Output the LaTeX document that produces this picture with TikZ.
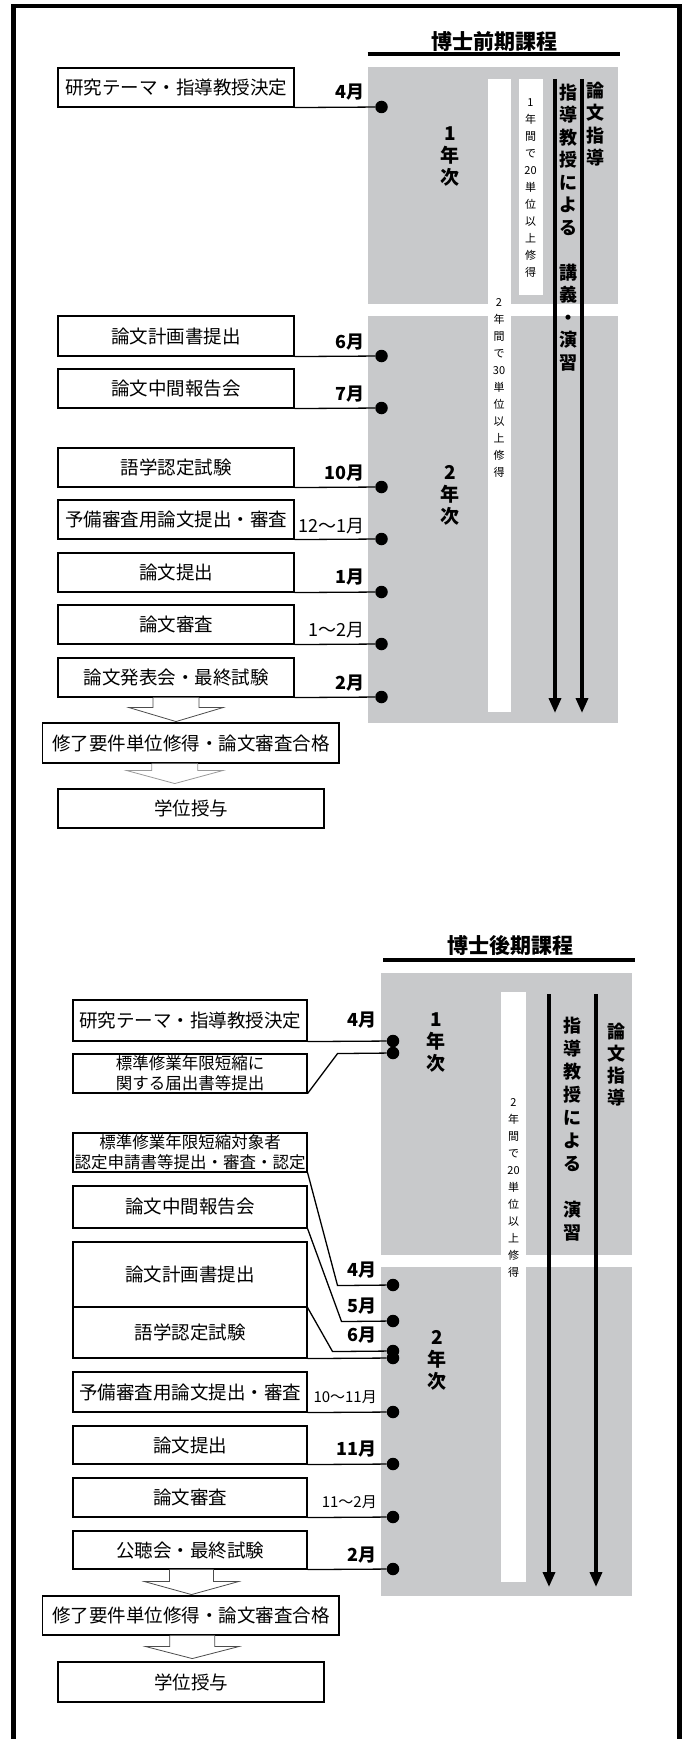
\documentclass[tikz,border=0pt]{standalone}
\usepackage{fontspec}
\newfontfamily\jpfont{Noto Sans CJK JP}
\usetikzlibrary{arrows.meta, calc}
\definecolor{termgray}{RGB}{200,201,203}

\begin{document}
\begin{tikzpicture}[
    % GLOBAL CFG
    x=1pt, y=-1pt,
    font=\jpfont,
    >={Triangle[length=15pt, width=12pt]},
    % Styles
    stepbox/.style={% For the boxes on the left
        rectangle,
        draw,
        line width=1.1pt,
        inner sep=0pt,
        minimum width=236pt,
        font=\jpfont\fontsize{18.5}{22}\selectfont,
        },
    notebox/.style={% For the boxes with two lines of text
        stepbox,
        align=center,
        font=\jpfont\fontsize{16.5}{20}\selectfont,
        },
    monthdot/.style={% For the points on the time line
        circle,
        fill=black,
        inner sep=0pt,
        minimum size=12.5pt,
        },
    month/.style={% For the month labels
        anchor=east,
        inner sep=0pt,
        font=\jpfont\bfseries\fontsize{18}{18}\selectfont,
        },
    monthspan/.style={% For the month ranges
        month,
        font=\jpfont\fontsize{18}{18}\selectfont,
        },
    yearlabel/.style={% 1年次, 2年次
        align=center,
        inner sep=0pt,
        font=\jpfont\bfseries\fontsize{19}{22}\selectfont,
        },
    vbold/.style={% vertical bold text between the arrows
        align=center,
        inner sep=0pt,
        font=\jpfont\bfseries\fontsize{18}{22.5}\selectfont,
        },
    vsmall/.style={% vertical text in the white bars
        align=center,
        inner sep=0pt,
        font=\jpfont\fontsize{11}{17}\selectfont,
        },
    coursetitle/.style={%
        inner sep=0pt,
        font=\jpfont\bfseries\fontsize{21}{21}\selectfont,
        },
    link/.style={% Lines from the boxes to the dots
        line width=1.3pt,
        },
    longarrow/.style={% Thick arrows on the right
        ->,
        line width=3.5pt,
        },
    blockarrow/.style={% Hollow arrows between the last boxes
        draw=black!70,
        line width=0.8pt,
        fill=white,
        },
    ]

    \fill[white] (0,0) rectangle (684,1739);
    \useasboundingbox (0,0) rectangle (684,1739);

    % Frame
    \draw[line width=4.5pt] (13.5,1745) -- (13.5,6) -- (679.5,6) -- (679.5,1745);

%%%%%%%%%%%%%%%%%%%%%%%%%%%%%%%%%%%%%%%%%%%%%%%%
%   博士前期課程
%%%%%%%%%%%%%%%%%%%%%%%%%%%%%%%%%%%%%%%%%%%%%%%%
    \node[coursetitle] (m_title) at (494,42) {博士前期課程};
    \draw[line width=4.5pt] (367.5,54) -- (620,54);

    % Draw the terms
    \fill[termgray] (367.5,67) rectangle (618,304);
    \fill[termgray] (367.5,316) rectangle (618,723);
    \fill[white] (487.5,79) rectangle (511,712);
    \fill[white] (518.5,79) rectangle (542.5,295);

    \node[yearlabel] (m_y1) at (450,156.5) {1\\年\\次};
    \node[yearlabel] (m_y2) at (450,495.5) {2\\年\\次};
    \node[vsmall] (m_u20) at (530.5,188) {1\\年\\間\\で\\20\\単\\位\\以\\上\\修\\得};
    \node[vsmall] (m_u30) at (499,387.5) {2\\年\\間\\で\\30\\単\\位\\以\\上\\修\\得};
    \node[vbold] (m_lec) at (568.5,227.5) {指\\導\\教\\授\\に\\よ\\る\\[22.5pt]講\\義\\・\\演\\習};
    \node[vbold] (m_thesis) at (595.5,124) {論\\文\\指\\導};

    % Thick arrows
    \coordinate (m_a1s) at (555,79);
    \coordinate (m_a1e) at (555,713);
    \coordinate (m_a2s) at (582,79);
    \coordinate (m_a2e) at (582,713);
    \draw[longarrow] (m_a1s) -- (m_a1e);
    \draw[longarrow] (m_a2s) -- (m_a2e);

    % Boxes
    \node[stepbox, minimum height=39pt] (m_theme) at (176,87.5) {研究テーマ・指導教授決定};
    \node[stepbox, minimum height=40pt] (m_plan) at (176,336) {論文計画書提出};
    \node[stepbox, minimum height=39pt] (m_mid) at (176,388.5) {論文中間報告会};
    \node[stepbox, minimum height=39pt] (m_lang) at (176,467.5) {語学認定試験};
    \node[stepbox, minimum height=39pt] (m_pre) at (176,519.5) {予備審査用論文提出・審査};
    \node[stepbox, minimum height=39pt] (m_sub) at (176,572.5) {論文提出};
    \node[stepbox, minimum height=39pt] (m_rev) at (176,624.5) {論文審査};
    \node[stepbox, minimum height=39pt] (m_final) at (176,677.5) {論文発表会・最終試験};
    \node[stepbox, minimum width=296.5pt, minimum height=40pt] (m_req) at (190.75,743) {修了要件単位修得・論文審査合格};
    \node[stepbox, minimum width=266pt, minimum height=39pt] (m_deg) at (191,808.5) {学位授与};

    % Dots and months
    \node[monthdot] (m_d1) at (381.5,107) {};
    \node[monthdot] (m_d2) at (381.5,356) {};
    \node[monthdot] (m_d3) at (381.5,408) {};
    \node[monthdot] (m_d4) at (381.5,487) {};
    \node[monthdot] (m_d5) at (381.5,539) {};
    \node[monthdot] (m_d6) at (381.5,592) {};
    \node[monthdot] (m_d7) at (381.5,644) {};
    \node[monthdot] (m_d8) at (381.5,697) {};

    \node[month] (m_m1) at (365,92) {4月};
    \node[month] (m_m2) at (365,342) {6月};
    \node[month] (m_m3) at (365,394) {7月};
    \node[month] (m_m4) at (365,473) {10月};
    \node[monthspan] (m_m5) at (365,526) {12～1月};
    \node[month] (m_m6) at (365,577) {1月};
    \node[monthspan] (m_m7) at (365,630) {1～2月};
    \node[month] (m_m8) at (365,683) {2月};

    \draw[link] (m_theme.south east) -- (m_d1);
    \draw[link] (m_plan.south east) -- (m_d2);
    \draw[link] (m_mid.south east) -- (m_d3);
    \draw[link] (m_lang.south east) -- (m_d4);
    \draw[link] (m_pre.south east) -- (m_d5);
    \draw[link] (m_sub.south east) -- (m_d6);
    \draw[link] (m_rev.south east) -- (m_d7);
    \draw[link] (m_final.south east) -- (m_d8);

    % Hollow arrows
    \draw[blockarrow] ([xshift=-23pt]m_final.south) -- ++(0,10) -- ++(-24,0) -- ++(47,14) -- ++(47,-14) -- ++(-24,0) -- ++(0,-10);
    \draw[blockarrow, draw=black!40] ([xshift=-39pt]m_req.south) -- ++(0,7) -- ++(-25,0) -- ++(48,13) -- ++(48,-13) -- ++(-25,0) -- ++(0,-7);

%%%%%%%%%%%%%%%%%%%%%%%%%%%%%%%%%%%%%%%%%%%%%%%%
%   博士後期課程
%%%%%%%%%%%%%%%%%%%%%%%%%%%%%%%%%%%%%%%%%%%%%%%%
    \node[coursetitle] (d_title) at (510,946) {博士後期課程};
    \draw[line width=4.5pt] (383,960) -- (635,960);

    % Draw the terms
    \fill[termgray] (381,973) rectangle (632,1255);
    \fill[termgray] (381,1267) rectangle (632,1596);
    \fill[white] (501,992) rectangle (526,1582);

    \node[yearlabel] (d_y1) at (436,1042) {1\\年\\次};
    \node[yearlabel] (d_y2) at (437,1360.5) {2\\年\\次};
    \node[vsmall] (d_u20) at (513.5,1188) {2\\年\\間\\で\\20\\単\\位\\以\\上\\修\\得};
    \node[vbold, font=\jpfont\bfseries\fontsize{18}{23}\selectfont] (d_lec) at (572,1129) {指\\導\\教\\授\\に\\よ\\る\\[23pt]演\\習};
    \node[vbold, font=\jpfont\bfseries\fontsize{18}{22}\selectfont] (d_thesis) at (616,1065) {論\\文\\指\\導};

    % Thick arrows
    \coordinate (d_a1s) at (549,994);
    \coordinate (d_a1e) at (549,1587);
    \coordinate (d_a2s) at (596,994);
    \coordinate (d_a2e) at (596,1587);
    \draw[longarrow] (d_a1s) -- (d_a1e);
    \draw[longarrow] (d_a2s) -- (d_a2e);

    % Boxes
    \node[stepbox, minimum width=234pt, minimum height=41pt] (d_theme) at (190,1020.5) {研究テーマ・指導教授決定};
    \node[notebox, minimum width=234pt, minimum height=39pt] (d_notice) at (190,1073.5) {標準修業年限短縮に\\関する届出書等提出};
    \node[notebox, minimum width=234pt, minimum height=39pt] (d_apply) at (190,1152.5) {標準修業年限短縮対象者\\認定申請書等提出・審査・認定};
    \node[stepbox, minimum width=234pt, minimum height=42pt] (d_mid) at (190,1207) {論文中間報告会};
    \node[stepbox, minimum width=234pt, minimum height=65pt] (d_plan) at (190,1274.5) {論文計画書提出};
    \node[stepbox, minimum width=234pt, minimum height=51pt] (d_lang) at (190,1332.5) {語学認定試験};
    \node[stepbox, minimum width=234pt, minimum height=40pt] (d_pre) at (190,1392) {予備審査用論文提出・審査};
    \node[stepbox, minimum width=234pt, minimum height=38pt] (d_sub) at (190,1445) {論文提出};
    \node[stepbox, minimum width=234pt, minimum height=39pt] (d_rev) at (190,1497.5) {論文審査};
    \node[stepbox, minimum width=234pt, minimum height=38pt] (d_final) at (190,1550) {公聴会・最終試験};
    \node[stepbox, minimum width=296.5pt, minimum height=39pt] (d_req) at (190.75,1615.5) {修了要件単位修得・論文審査合格};
    \node[stepbox, minimum width=266pt, minimum height=40pt] (d_deg) at (191,1682) {学位授与};

    % Dots and months
    \node[monthdot] (d_d1) at (393,1041) {};
    \node[monthdot] (d_d2) at (393,1053) {};
    \node[monthdot] (d_d3) at (393,1285) {};
    \node[monthdot] (d_d4) at (393,1321) {};
    \node[monthdot] (d_d5) at (393,1351) {};
    \node[monthdot] (d_d6) at (393,1358) {};
    \node[monthdot] (d_d7) at (393,1412) {};
    \node[monthdot] (d_d8) at (393,1464) {};
    \node[monthdot] (d_d9) at (393,1517) {};
    \node[monthdot] (d_d10) at (393,1569) {};

    \node[month] (d_m1) at (377,1020) {4月};
    \node[month] (d_m3) at (377,1270) {4月};
    \node[month] (d_m4) at (377,1306) {5月};
    \node[month] (d_m5) at (377,1335) {6月};
    \node[monthspan, font=\jpfont\fontsize{15}{15}\selectfont] (d_m7) at (377,1397) {10～11月};
    \node[month] (d_m8) at (377,1449) {11月};
    \node[monthspan, font=\jpfont\fontsize{15}{15}\selectfont] (d_m9) at (377,1502) {11～2月};
    \node[month] (d_m10) at (377,1555) {2月};

    \draw[link] (d_theme.south east) -- (d_d1);
    \draw[link] (d_notice.south east) -- ++(30,-40) -- (d_d2);
    \draw[link] (d_apply.south east) -- ++(30,113) -- (d_d3);
    \draw[link] (d_mid.south east) -- ++(34,93) -- (d_d4);
    \draw[link] (d_plan.south east) -- ++(25,44) -- (d_d5);
    \draw[link] (d_lang.south east) -- (d_d6);
    \draw[link] (d_pre.south east) -- (d_d7);
    \draw[link] (d_sub.south east) -- (d_d8);
    \draw[link] (d_rev.south east) -- (d_d9);
    \draw[link] (d_final.south east) -- (d_d10);

    % Hollow arrows
    \draw[blockarrow] ([xshift=-20.5pt]d_final.south) -- ++(0,12) -- ++(-25,0) -- ++(47,13) -- ++(47,-13) -- ++(-25,0) -- ++(0,-12);
    \draw[blockarrow] ([xshift=-21pt]d_req.south) -- ++(0,11) -- ++(-24,0) -- ++(46.5,12) -- ++(46.5,-12) -- ++(-24,0) -- ++(0,-11);

\end{tikzpicture}
\end{document}
